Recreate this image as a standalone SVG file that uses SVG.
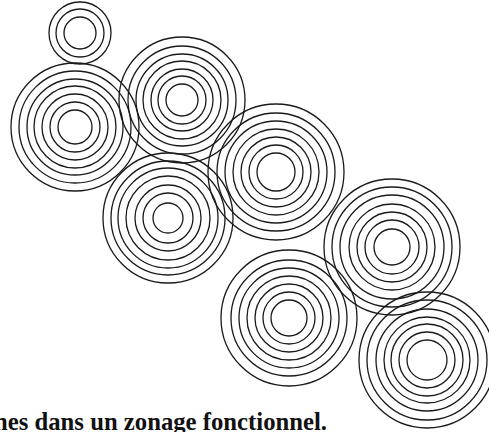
<svg xmlns="http://www.w3.org/2000/svg" width="489" height="432" viewBox="0 0 489 432">
<style>
circle{fill:none;stroke:#1a1a1a;stroke-width:1.3}
.cap{font-family:"Liberation Serif","Times New Roman",serif;font-weight:bold;font-size:26px;fill:#111}
</style>
<rect width="489" height="432" fill="#fff"/>
<g id="zone-a">
<circle cx="80" cy="33" r="16"/><circle cx="80" cy="33" r="24"/><circle cx="80" cy="33" r="31"/>
</g>
<g id="zone-b">
<circle cx="75" cy="127" r="17"/><circle cx="75" cy="127" r="25"/><circle cx="75" cy="127" r="33"/><circle cx="75" cy="127" r="41"/><circle cx="75" cy="127" r="48"/><circle cx="75" cy="127" r="56"/><circle cx="75" cy="127" r="64"/>
</g>
<g id="zone-c">
<circle cx="182" cy="100" r="16"/><circle cx="182" cy="100" r="24"/><circle cx="182" cy="100" r="31"/><circle cx="182" cy="100" r="39"/><circle cx="182" cy="100" r="46"/><circle cx="182" cy="100" r="54"/><circle cx="182" cy="100" r="63"/>
</g>
<g id="zone-d">
<circle cx="168" cy="218" r="15"/><circle cx="168" cy="218" r="25"/><circle cx="168" cy="218" r="33"/><circle cx="168" cy="218" r="42"/><circle cx="168" cy="218" r="50"/><circle cx="168" cy="218" r="57"/><circle cx="168" cy="218" r="65"/>
</g>
<g id="zone-e">
<circle cx="276" cy="172" r="19"/><circle cx="276" cy="172" r="27"/><circle cx="276" cy="172" r="35"/><circle cx="276" cy="172" r="43"/><circle cx="276" cy="172" r="51"/><circle cx="276" cy="172" r="59"/><circle cx="276" cy="172" r="68"/>
</g>
<g id="zone-f">
<circle cx="392" cy="247" r="18"/><circle cx="392" cy="247" r="27"/><circle cx="392" cy="247" r="35"/><circle cx="392" cy="247" r="43"/><circle cx="392" cy="247" r="52"/><circle cx="392" cy="247" r="60"/><circle cx="392" cy="247" r="68"/>
</g>
<g id="zone-g">
<circle cx="289" cy="318" r="18"/><circle cx="289" cy="318" r="26"/><circle cx="289" cy="318" r="34"/><circle cx="289" cy="318" r="42"/><circle cx="289" cy="318" r="50"/><circle cx="289" cy="318" r="58"/><circle cx="289" cy="318" r="68"/>
</g>
<g id="zone-h">
<circle cx="427" cy="360" r="20"/><circle cx="427" cy="360" r="28"/><circle cx="427" cy="360" r="36"/><circle cx="427" cy="360" r="43"/><circle cx="427" cy="360" r="51"/><circle cx="427" cy="360" r="60"/><circle cx="427" cy="360" r="68"/>
</g>
<g id="connectors"/>
<text class="cap" x="-6" y="430" textLength="333" lengthAdjust="spacingAndGlyphs">nes dans un zonage fonctionnel.</text>
</svg>
